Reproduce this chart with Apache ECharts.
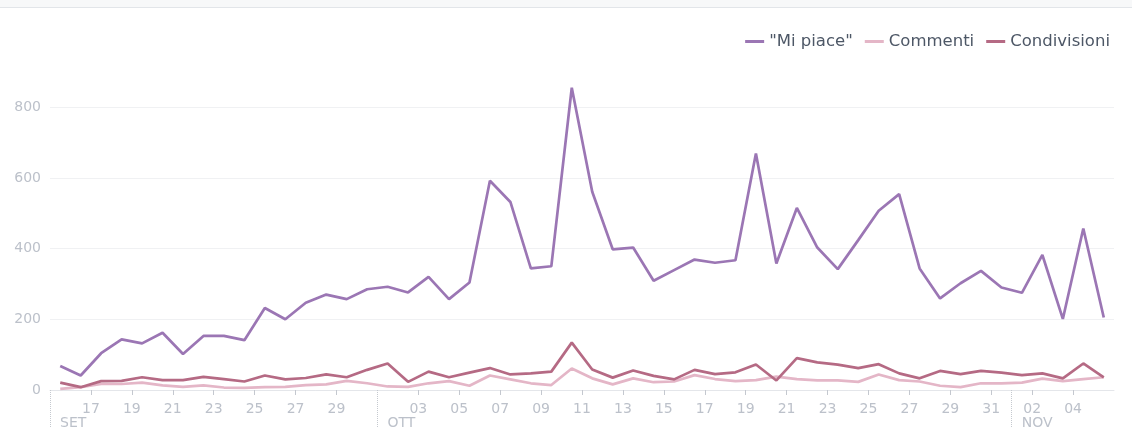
<!DOCTYPE html>
<html>
<head>
<meta charset="utf-8">
<script src="https://cdn.jsdelivr.net/npm/echarts@6/dist/echarts.min.js"></script>
<style>
  html, body { margin: 0; padding: 0; background: #fff; }
  #wrap { position: relative; width: 1132px; height: 447px; }
  #band { position: absolute; left: 0; top: 0; width: 1132px; height: 7px; background: #f7f8f9; border-bottom: 1px solid #e2e5e9; }
  #chart { position: absolute; left: 0; top: 0; width: 1132px; height: 447px; }
</style>
</head>
<body>
<div id="wrap">
  <div id="chart"></div>
  <div id="band"></div>
</div>
<script>
// one value per day, first day 15 Sep
const START_DAY = "09-15";

const miPiace = [68, 41, 104, 143, 132, 162, 102, 153, 153, 141, 232, 200, 247, 270, 257, 285,
  292, 276, 320, 257, 304, 592, 532, 344, 350, 855, 561, 398, 403, 309, 339, 369,
  360, 367, 669, 358, 515, 403, 342, 424, 507, 554, 344, 259, 302, 337, 290, 275,
  382, 201, 457, 205];

const commenti = [3, 8, 17, 17, 21, 13, 9, 13, 7, 6, 8, 9, 14, 16, 26, 19,
  10, 9, 19, 25, 12, 41, 30, 19, 14, 61, 33, 16, 33, 22, 24, 42,
  31, 25, 28, 38, 31, 27, 27, 23, 44, 28, 24, 12, 8, 19, 19, 21,
  32, 25, 31, 36];

const condivisioni = [21, 8, 25, 26, 36, 28, 28, 37, 31, 24, 41, 30, 34, 44, 36, 57,
  75, 23, 52, 36, 49, 62, 44, 47, 52, 134, 58, 35, 55, 40, 30, 57,
  45, 50, 72, 27, 90, 78, 72, 62, 73, 47, 33, 54, 45, 54, 49, 42,
  47, 33, 75, 36];

const tickDates = ["09-17", "09-19", "09-21", "09-23", "09-25", "09-27", "09-29",
  "10-03", "10-05", "10-07", "10-09", "10-11", "10-13", "10-15", "10-17", "10-19",
  "10-21", "10-23", "10-25", "10-27", "10-29", "10-31", "11-02", "11-04"];

const monthMarks = [["09-15", "SET"], ["10-01", "OTT"], ["11-01", "NOV"]];

const yTicks = [0, 200, 400, 600, 800];

function dayIndex(md) {
  const [m, d] = md.split("-").map(Number);
  const [m0, d0] = START_DAY.split("-").map(Number);
  return Math.round((Date.UTC(2014, m - 1, d) - Date.UTC(2014, m0 - 1, d0)) / 86400000);
}

const tickIdx = tickDates.map(dayIndex);
const tickText = new Map(tickDates.map(s => [dayIndex(s), s.slice(3)]));
const monthIdx = monthMarks.map(([s]) => dayIndex(s));
const monthText = new Map(monthMarks.map(([s, t]) => [dayIndex(s), t]));
const nDays = miPiace.length;

// points sit in the middle of their day
const toPoints = arr => arr.map((v, i) => [i + 0.5, v]);

const labelColor = "#bcc1ca";
const FONT = "DejaVu Sans";

const chart = echarts.init(document.getElementById("chart"));

chart.setOption({
  animation: false,
  backgroundColor: "#fff",
  color: ["#9b76b4", "#e4b6c7", "#b56a84"],
  legend: {
    right: 17,
    top: 28,
    icon: "rect",
    itemWidth: 19,
    itemHeight: 3,
    itemGap: 12,
    textStyle: { color: "#4d5766", fontSize: 16.5, fontFamily: FONT },
    data: ['"Mi piace"', "Commenti", "Condivisioni"]
  },
  grid: { left: 50, right: 18, top: 86, bottom: 57 },
  xAxis: [
    {
      type: "value",
      min: 0,
      max: nDays,
      axisLine: { show: true, lineStyle: { color: "#e4e6ea", width: 1 } },
      axisTick: { show: true, customValues: tickIdx, length: 5, lineStyle: { color: "#c4c8cf" } },
      axisLabel: {
        customValues: tickIdx,
        formatter: v => tickText.get(Math.round(v)) || "",
        color: labelColor,
        fontSize: 14,
        fontFamily: FONT,
        margin: 12
      },
      splitLine: { show: false }
    },
    {
      type: "value",
      position: "bottom",
      min: 0,
      max: nDays,
      axisLine: { show: false },
      axisTick: {
        show: true,
        customValues: monthIdx,
        length: 38,
        lineStyle: { color: "#c5c9cf", type: "dotted", width: 1 }
      },
      axisLabel: {
        customValues: monthIdx,
        formatter: v => monthText.get(Math.round(v)) || "",
        color: labelColor,
        fontSize: 14,
        fontFamily: FONT,
        align: "left",
        padding: [0, 0, 0, 10],
        margin: 26
      },
      splitLine: { show: false }
    }
  ],
  yAxis: {
    type: "value",
    min: 0,
    max: 860,
    axisLine: { show: false },
    axisTick: { show: false, customValues: yTicks },
    axisLabel: {
      customValues: yTicks,
      color: labelColor,
      fontSize: 14,
      fontFamily: FONT,
      margin: 9
    },
    splitLine: { show: true, lineStyle: { color: "#f0f1f3" } }
  },
  series: [
    {
      name: '"Mi piace"',
      type: "line",
      symbol: "none",
      lineStyle: { width: 2.7 },
      data: toPoints(miPiace)
    },
    {
      name: "Commenti",
      type: "line",
      symbol: "none",
      lineStyle: { width: 2.7 },
      data: toPoints(commenti)
    },
    {
      name: "Condivisioni",
      type: "line",
      symbol: "none",
      lineStyle: { width: 2.7 },
      data: toPoints(condivisioni)
    }
  ]
});

window.addEventListener("resize", () => chart.resize());
</script>
</body>
</html>
